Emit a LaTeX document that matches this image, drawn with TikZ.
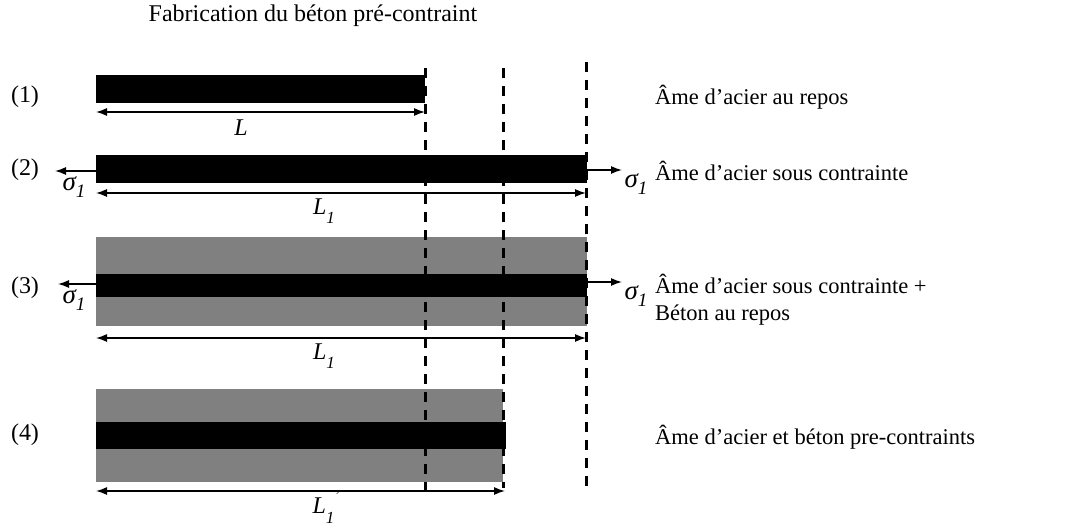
\documentclass[tikz,border=0pt]{standalone}
\usepackage{fontspec}
\setmainfont{Liberation Serif}
\usetikzlibrary{arrows.meta}
\definecolor{concrete}{HTML}{808080}
\newcommand{\sig}{{\fontsize{27}{27}\selectfont\itshape σ}\raisebox{-0.3em}{\fontsize{19}{19}\selectfont\itshape 1}}
\newcommand{\Lone}{\textit{L}\raisebox{-0.4em}{\fontsize{17}{17}\selectfont\itshape 1}}
\begin{document}
\begin{tikzpicture}[x=1pt,y=-1pt,
  txt/.style={font=\fontsize{22.5}{27}\selectfont, inner sep=0pt},
  lbl/.style={font=\fontsize{24}{28}\selectfont, inner sep=0pt},
  rtxt/.style={txt, anchor=west, align=left},
  steel/.style={fill=black, draw=none},
  beton/.style={fill=concrete, draw=none},
  dim/.style={line width=1.4pt, {Latex[length=11pt,width=8pt]}-{Latex[length=11pt,width=8pt]}},
  force/.style={line width=1.4pt, -{Latex[length=11pt,width=8pt]}},
  guide/.style={line width=3pt, dash pattern=on 10pt off 8pt}
]
\useasboundingbox (0,0) rectangle (1088,525);

% title
\node[font=\fontsize{24}{28}\selectfont, inner sep=0pt] (title) at (313,16) {Fabrication du béton pré-contraint};

% row labels
\node[lbl] (n1) at (25,97) {(1)};
\node[lbl] (n2) at (25,170) {(2)};
\node[lbl] (n3) at (25,288) {(3)};
\node[lbl] (n4) at (25,435) {(4)};

% bars
\fill[steel] (96,75) rectangle (425,103);
\fill[steel] (96,155) rectangle (587,183);
\fill[beton] (96,237) rectangle (587,326);
\fill[steel] (96,274) rectangle (587,297);
\fill[beton] (96,389) rectangle (503,482);
\fill[steel] (96,422) rectangle (506,449);

% dashed guides
\coordinate (g1t) at (425,68);  \coordinate (g1b) at (425,492);
\coordinate (g2t) at (503,68);  \coordinate (g2b) at (503,488);
\coordinate (g3t) at (586,62);  \coordinate (g3b) at (586,488);
\draw[guide] (g1t) -- (g1b);
\draw[guide] (g2t) -- (g2b);
\draw[guide] (g3t) -- (g3b);

% dimension lines
\coordinate (d1a) at (96,112); \coordinate (d1b) at (425,112);
\coordinate (d2a) at (96,193); \coordinate (d2b) at (586,193);
\coordinate (d3a) at (96,338); \coordinate (d3b) at (586,338);
\coordinate (d4a) at (96,491); \coordinate (d4b) at (505,491);
\draw[dim] (d1a) -- (d1b);
\draw[dim] (d2a) -- (d2b);
\draw[dim] (d3a) -- (d3b);
\draw[dim] (d4a) -- (d4b);
\node[lbl] (lL) at (241,128) {\textit{L}};
\node[lbl] (lL1a) at (324,211) {\Lone};
\node[lbl] (lL1b) at (324,356) {\Lone};
\node[lbl] (lL1c) at (326,507) {\Lone\raisebox{0.55em}{\fontsize{15}{15}\selectfont\itshape '}};

% forces
\coordinate (f2l0) at (96,171); \coordinate (f2l) at (55,171);
\coordinate (f2r0) at (587,170); \coordinate (f2r) at (622,170);
\coordinate (f3l0) at (96,284); \coordinate (f3l) at (58,284);
\coordinate (f3r0) at (587,282); \coordinate (f3r) at (622,282);
\draw[force] (f2l0) -- (f2l);
\draw[force] (f2r0) -- (f2r);
\draw[force] (f3l0) -- (f3l);
\draw[force] (f3r0) -- (f3r);
\node[txt] (s2l) at (74,187) {\sig};
\node[txt] (s2r) at (636,184) {\sig};
\node[txt] (s3l) at (74,300) {\sig};
\node[txt] (s3r) at (636,296) {\sig};

% right texts
\node[rtxt] (t1) at (655,97) {Âme d’acier au repos};
\node[rtxt] (t2) at (655,171) {Âme d’acier sous contrainte};
\node[rtxt] (t3) at (655,300) {Âme d’acier sous contrainte +\\Béton au repos};
\node[rtxt] (t4) at (655,437) {Âme d’acier et béton pre-contraints};
\end{tikzpicture}
\end{document}
